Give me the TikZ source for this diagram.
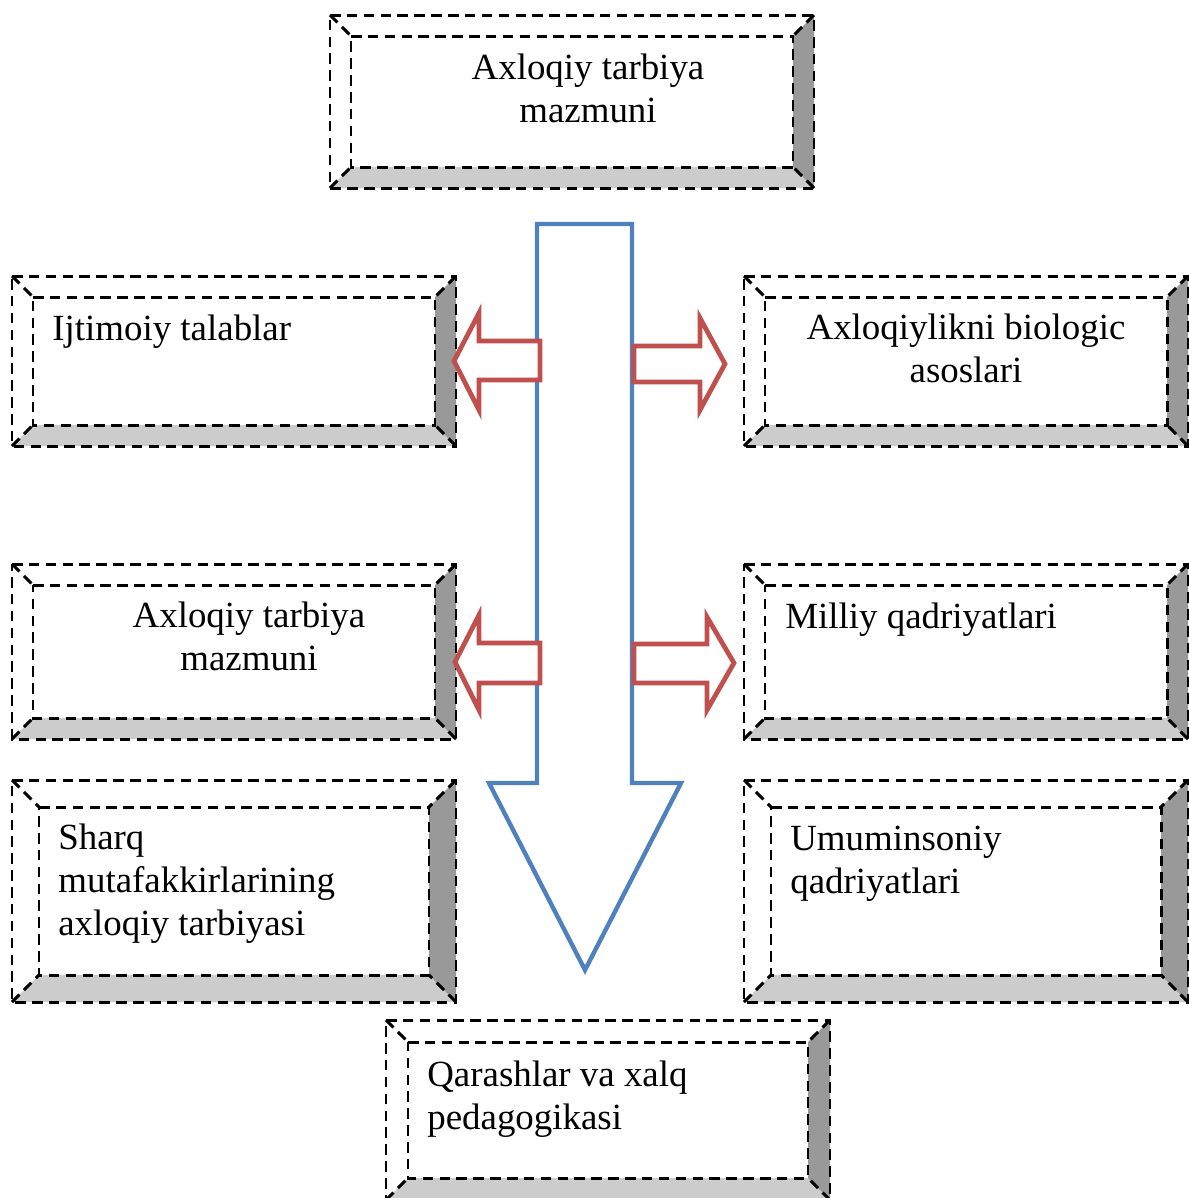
\documentclass[tikz,border=0pt]{standalone}
\usepackage{fontspec}
\setmainfont{Liberation Serif}
\usetikzlibrary{positioning}

\definecolor{shaftblue}{HTML}{4F81BD}
\definecolor{sidered}{HTML}{C0504D}
\definecolor{bevellight}{HTML}{CCCCCC}
\definecolor{beveldark}{HTML}{999999}

\tikzset{
  boxline/.style={line width=1.7pt,dash pattern=on 6pt off 3.6pt},
  label/.style={inner sep=0pt,font=\fontsize{21}{24.4}\selectfont},
  bigarrow/.style={draw=shaftblue,line width=2.5pt,fill=white,line join=miter},
  sidearrow/.style={draw=sidered,line width=2.7pt,fill=white,line join=miter}
}

% bevelled box: name, x1, y1, x2, y2, depth
\newcommand{\bevelbox}[6]{%
  \pgfmathsetmacro{\bxa}{#2+#6}\pgfmathsetmacro{\bya}{#3+#6}%
  \pgfmathsetmacro{\bxb}{#4-#6}\pgfmathsetmacro{\byb}{#5-#6}%
  \coordinate (#1-o1) at (#2,#3); \coordinate (#1-o2) at (#4,#3);
  \coordinate (#1-o3) at (#4,#5); \coordinate (#1-o4) at (#2,#5);
  \coordinate (#1-i1) at (\bxa,\bya); \coordinate (#1-i2) at (\bxb,\bya);
  \coordinate (#1-i3) at (\bxb,\byb); \coordinate (#1-i4) at (\bxa,\byb);
  \fill[bevellight] (#1-o4) -- (#1-o3) -- (#1-i3) -- (#1-i4) -- cycle;
  \fill[beveldark] (#1-o2) -- (#1-o3) -- (#1-i3) -- (#1-i2) -- cycle;
  \draw[boxline] (#1-o1) -- (#1-o2) -- (#1-o3) -- (#1-o4) -- cycle;
  \draw[boxline] (#1-i1) -- (#1-i2) -- (#1-i3) -- (#1-i4) -- cycle;
  \foreach \k in {1,...,4}
    \draw[boxline] (#1-o\k) -- (#1-i\k);
}

\begin{document}
\begin{tikzpicture}[x=0.02cm,y=-0.02cm]
  \useasboundingbox (0,0) rectangle (1189,1198);

  % boxes
  \foreach \name/\xa/\ya/\xb/\yb/\d in {top/330/15/814/188/21,
      ijt/12/276/456/446/21, bio/744/276/1188/446/21,
      mazm/12/564/456/739/21, mill/744/564/1188/739/21,
      sharq/12/780/456/1002/27, umum/744/780/1188/1002/27,
      qar/386/1020/830/1200/22}
    \bevelbox{\name}{\xa}{\ya}{\xb}{\yb}{\d};

  % main arrow
  \draw[bigarrow] (537,224) -- (632,224) -- (632,783) -- (681,783)
    -- (585,970) -- (489,783) -- (537,783) -- cycle;

  % side arrows
  \draw[sidearrow] (454,361) -- (479,313) -- (479,341) -- (540,341)
    -- (540,380) -- (479,380) -- (479,410) -- cycle;
  \draw[sidearrow] (634,346) -- (700,346) -- (700,318) -- (725,364)
    -- (700,410) -- (700,382) -- (634,382) -- cycle;
  \draw[sidearrow] (455,662) -- (479,615) -- (479,643) -- (540,643)
    -- (540,683) -- (479,683) -- (479,710) -- cycle;
  \draw[sidearrow] (634,644) -- (707,644) -- (707,617) -- (734,663)
    -- (707,710) -- (707,683) -- (634,683) -- cycle;

  % texts (base = last line)
  \node[label,align=center,anchor=base] (toptext) at (588,122)
    {Axloqiy tarbiya\\mazmuni};
  \node[label,align=left,anchor=base west] (ijttext) at (52,340)
    {Ijtimoiy talablar};
  \node[label,align=center,anchor=base] (biotext) at (966,382)
    {Axloqiylikni biologic\\asoslari};
  \node[label,align=center,anchor=base] (mazmtext) at (249,670)
    {Axloqiy tarbiya\\mazmuni};
  \node[label,align=left,anchor=base west] (milltext) at (785,628)
    {Milliy qadriyatlari};
  \node[label,align=left,anchor=base west] (sharqtext) at (58,935)
    {Sharq\\mutafakkirlarining\\axloqiy tarbiyasi};
  \node[label,align=left,anchor=base west] (umumtext) at (790,893)
    {Umuminsoniy\\qadriyatlari};
  \node[label,align=left,anchor=base west] (qartext) at (427,1129)
    {Qarashlar va xalq\\pedagogikasi};
\end{tikzpicture}
\end{document}
